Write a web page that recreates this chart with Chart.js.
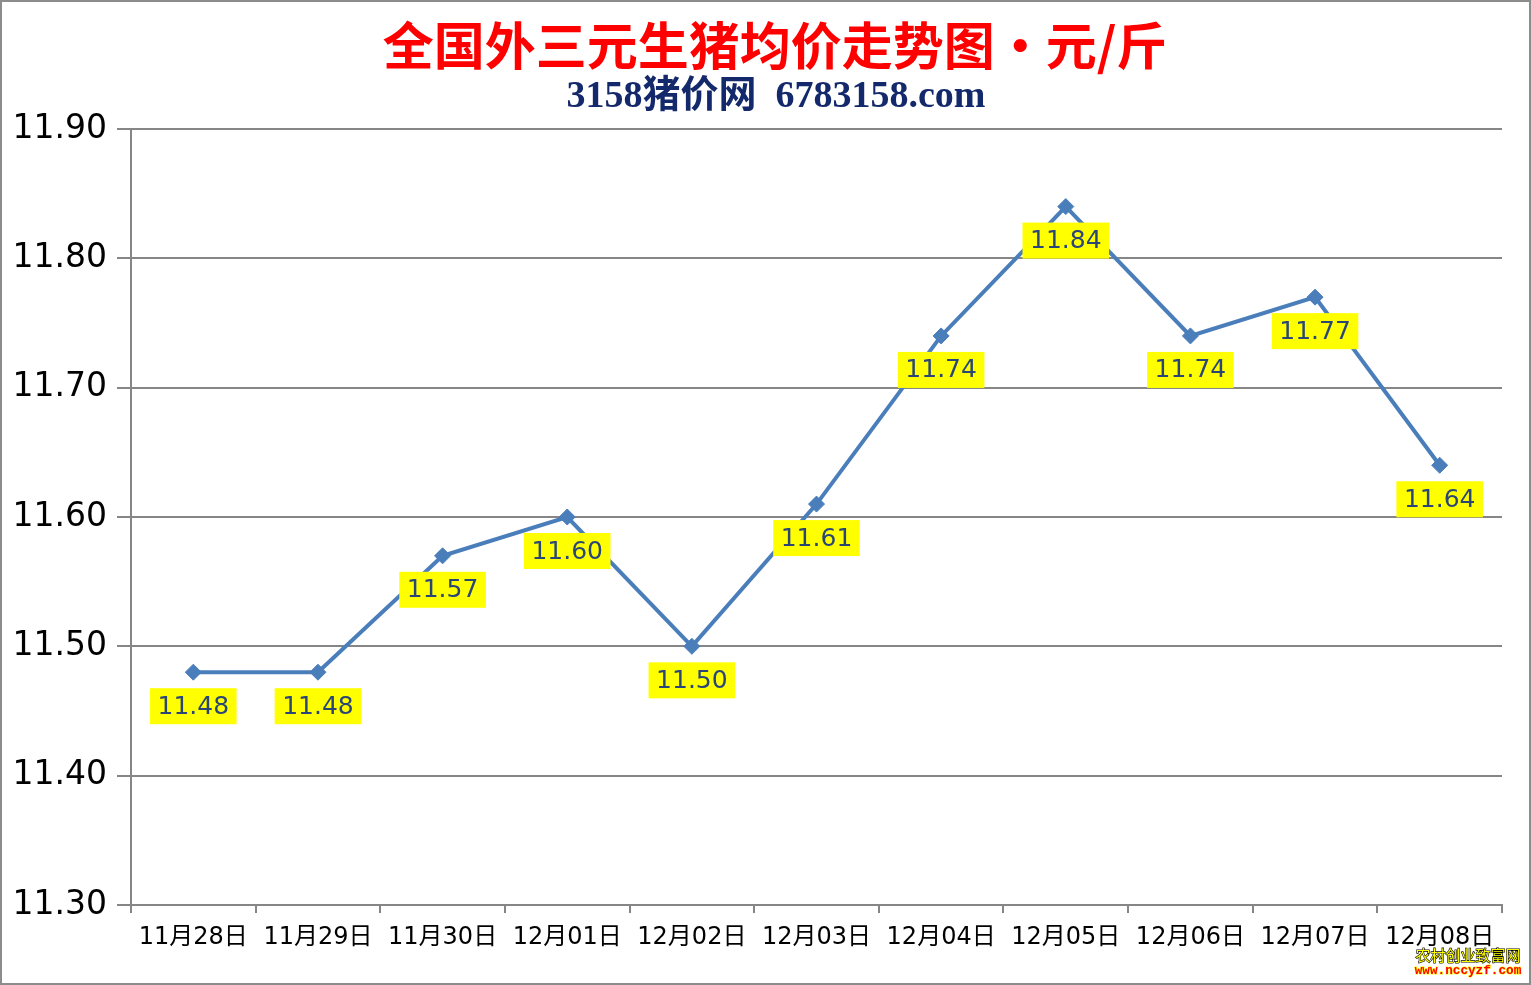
<!DOCTYPE html>
<html>
<head>
<meta charset="utf-8">
<script src="https://cdn.jsdelivr.net/npm/chart.js@4"></script>
<style>
  html, body { margin: 0; padding: 0; background: #fff; }
  #wrap { position: relative; width: 1531px; height: 985px; }
  #watermark {
    position: absolute; left: 1410px; top: 947px; width: 116px; text-align: center;
    line-height: 16px;
  }
  #watermark .cn { color: #ffff00; font-family: "Noto Sans CJK SC", sans-serif; font-size: 15px; -webkit-text-stroke: 1.2px #000; paint-order: stroke fill; }
  #watermark .url { color: #ff0000; font-family: "Liberation Mono", monospace; font-weight: bold; font-size: 12.7px; -webkit-text-stroke: 1px #ffff00; paint-order: stroke fill; }
</style>
</head>
<body>
<div id="wrap">
  <canvas id="priceChart" width="1531" height="985"></canvas>
  <div id="watermark"><div class="cn">农村创业致富网</div><div class="url">www.nccyzf.com</div></div>
</div>
<script>
const dateLabels = ["11月28日", "11月29日", "11月30日", "12月01日", "12月02日", "12月03日",
    "12月04日", "12月05日", "12月06日", "12月07日", "12月08日"];
const avgPrices = [11.48, 11.48, 11.57, 11.60, 11.50, 11.61, 11.74, 11.84, 11.74, 11.77, 11.64];
const yMin = 11.30;
const yMax = 11.90;
const yStep = 0.1;

const titleText = "全国外三元生猪均价走势图・元/斤";
const subtitleText = "3158猪价网  6783158.com";

// yellow boxed value labels under each point
const valueLabelPlugin = {
    id: 'valueLabels',
    afterDatasetsDraw(chart) {
        const ctx = chart.ctx;
        const meta = chart.getDatasetMeta(0);
        ctx.save();
        ctx.font = '25px "DejaVu Sans"';
        ctx.textAlign = 'center';
        ctx.textBaseline = 'middle';
        meta.data.forEach((pt, i) => {
            const txt = avgPrices[i].toFixed(2);
            const w = ctx.measureText(txt).width + 15;
            const h = 36;
            const cx = pt.x;
            const cy = pt.y + 34;
            ctx.fillStyle = '#ffff00';
            ctx.fillRect(cx - w / 2, cy - h / 2, w, h);
            ctx.fillStyle = '#2a4677';
            ctx.fillText(txt, cx, cy + 1);
        });
        ctx.restore();
    }
};

// frame + two-line heading
const frameTitlePlugin = {
    id: 'frameTitle',
    beforeDraw(chart) {
        const ctx = chart.ctx;
        ctx.save();
        ctx.fillStyle = '#ffffff';
        ctx.fillRect(0, 0, chart.width, chart.height);
        ctx.strokeStyle = '#8c8c8c';
        ctx.lineWidth = 2;
        ctx.strokeRect(1, 1, chart.width - 2, chart.height - 2);

        ctx.textAlign = 'center';
        ctx.textBaseline = 'middle';
        ctx.fillStyle = '#ff0000';
        ctx.font = 'bold 51px "Noto Sans CJK SC"';
        ctx.fillText(titleText, 775, 46);
        ctx.fillStyle = '#14296b';
        ctx.font = 'bold 38px "Liberation Serif", "Noto Sans CJK SC"';
        ctx.fillText(subtitleText, 776, 97);
        ctx.restore();
    }
};

new Chart(document.getElementById('priceChart'), {
    type: 'line',
    data: {
        labels: dateLabels,
        datasets: [{
            data: avgPrices,
            borderColor: '#4a7ebb',
            backgroundColor: '#4a7ebb',
            borderWidth: 4,
            tension: 0,
            pointStyle: 'rectRot',
            pointRadius: 8,
            pointBorderWidth: 1,
            pointBorderColor: '#4a7ebb',
            pointBackgroundColor: '#4a7ebb'
        }]
    },
    options: {
        responsive: false,
        animation: false,
        devicePixelRatio: 1,
        layout: { padding: { top: 129, right: 29, bottom: 0, left: 0 } },
        plugins: {
            legend: { display: false },
            tooltip: { enabled: false },
            title: { display: false }
        },
        scales: {
            x: {
                offset: true,
                grid: { display: true, drawOnChartArea: false, drawTicks: true, tickLength: 8, color: '#868686', lineWidth: 2, offset: true },
                border: { display: true, color: '#868686', width: 2 },
                ticks: {
                    color: '#000',
                    font: { family: '"DejaVu Sans", "Noto Sans CJK SC"', size: 24 },
                    padding: 10,
                    maxRotation: 0,
                    autoSkip: false
                },
                afterFit(scale) { scale.height = 80; }
            },
            y: {
                min: yMin,
                max: yMax,
                grid: { color: '#868686', lineWidth: 2, tickLength: 14 },
                border: { display: true, color: '#868686', width: 2 },
                ticks: {
                    stepSize: yStep,
                    color: '#000',
                    font: { family: '"DejaVu Sans"', size: 33 },
                    padding: 10,
                    callback: v => Number(v).toFixed(2)
                },
                afterFit(scale) { scale.width = 131; }
            }
        }
    },
    plugins: [frameTitlePlugin, valueLabelPlugin]
});
</script>
</body>
</html>
